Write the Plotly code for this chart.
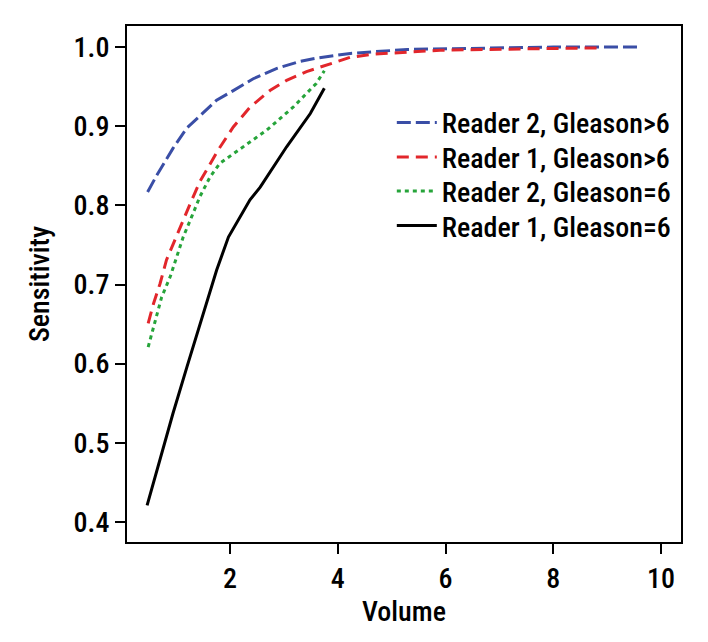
import plotly.graph_objects as go

# Data
r2_gt6_x = [0.47, 0.64, 0.94, 1.2, 1.44, 1.75, 2.06, 2.43, 2.87, 3.3, 3.61, 3.92, 4.23, 5.29, 6.83, 8.0, 9.61]
r2_gt6_y = [0.817, 0.838, 0.872, 0.898, 0.913, 0.933, 0.945, 0.960, 0.973, 0.982, 0.986, 0.989, 0.992, 0.997, 0.999, 1.0, 1.0]

r1_gt6_x = [0.48, 0.58, 0.70, 0.82, 0.95, 1.10, 1.26, 1.44, 1.63, 1.78, 2.06, 2.37, 2.74, 3.05, 3.42, 3.86, 4.23, 4.66, 5.9, 7.76, 8.93]
r1_gt6_y = [0.651, 0.676, 0.701, 0.731, 0.752, 0.777, 0.802, 0.830, 0.853, 0.870, 0.899, 0.924, 0.945, 0.958, 0.969, 0.979, 0.987, 0.991, 0.996, 0.998, 0.999]

r2_eq6_x = [0.48, 0.61, 0.73, 0.89, 1.01, 1.13, 1.29, 1.44, 1.63, 1.81, 2.12, 2.68, 3.17, 3.6, 3.75]
r2_eq6_y = [0.621, 0.655, 0.684, 0.710, 0.735, 0.760, 0.786, 0.811, 0.836, 0.853, 0.868, 0.895, 0.924, 0.954, 0.970]

r1_eq6_x = [0.46, 0.94, 1.2, 1.57, 1.75, 1.97, 2.37, 2.56, 3.05, 3.49, 3.75]
r1_eq6_y = [0.421, 0.537, 0.596, 0.680, 0.718, 0.760, 0.807, 0.823, 0.874, 0.916, 0.948]

names = ["Reader 2, Gleason>6", "Reader 1, Gleason>6", "Reader 2, Gleason=6", "Reader 1, Gleason=6"]
x_ticks = [2, 4, 6, 8, 10]
y_ticks = [0.4, 0.5, 0.6, 0.7, 0.8, 0.9, 1.0]

FONT = "Roboto Condensed, DejaVu Sans Condensed, sans-serif"

fig = go.Figure()
series = [
    (r2_gt6_x, r2_gt6_y, names[0], "#3a4ea6", "14px,5px", "legend"),
    (r1_gt6_x, r1_gt6_y, names[1], "#e2262b", "12px,7px", "legend2"),
    (r2_eq6_x, r2_eq6_y, names[2], "#26a43a", "4px,4px", "legend3"),
    (r1_eq6_x, r1_eq6_y, names[3], "#000000", "solid", "legend4"),
]
for x, y, n, c, d, lg in series:
    fig.add_trace(go.Scatter(x=x, y=y, name=n, mode="lines", legend=lg,
                             line=dict(color=c, width=3, dash=d)))

legend_tops = [0.861, 0.794, 0.728, 0.661]


def leg(ytop):
    return dict(x=0.478, y=ytop, xanchor="left", yanchor="top",
                font=dict(size=28, family=FONT, weight=500), bgcolor="rgba(0,0,0,0)",
                itemwidth=40)


fig.update_layout(
    width=708, height=642,
    margin=dict(l=119, r=35, t=18, b=108),
    paper_bgcolor="white", plot_bgcolor="white",
    font=dict(family=FONT, color="black", size=28, weight=500),
    legend=leg(legend_tops[0]),
    legend2=leg(legend_tops[1]),
    legend3=leg(legend_tops[2]),
    legend4=leg(legend_tops[3]),
    showlegend=True,
)
fig.update_xaxes(range=[0.087, 10.371], tickvals=x_ticks, ticktext=[str(v) for v in x_ticks],
                 showgrid=False, zeroline=False, showline=True, linecolor="black", linewidth=2,
                 mirror=True, ticks="outside", ticklen=10, tickwidth=2, tickcolor="black",
                 title=dict(text="Volume", font=dict(size=28), standoff=0),
                 tickfont=dict(size=28))
fig.update_yaxes(range=[0.3747, 1.0266], tickvals=y_ticks, ticktext=[f"{v:.1f}" for v in y_ticks],
                 showgrid=False, zeroline=False, showline=True, linecolor="black", linewidth=2,
                 mirror=True, ticks="outside", ticklen=10, tickwidth=2, tickcolor="black",
                 title=dict(text="Sensitivity", font=dict(size=28), standoff=16),
                 tickfont=dict(size=28))

fig.write_html("out.html")
